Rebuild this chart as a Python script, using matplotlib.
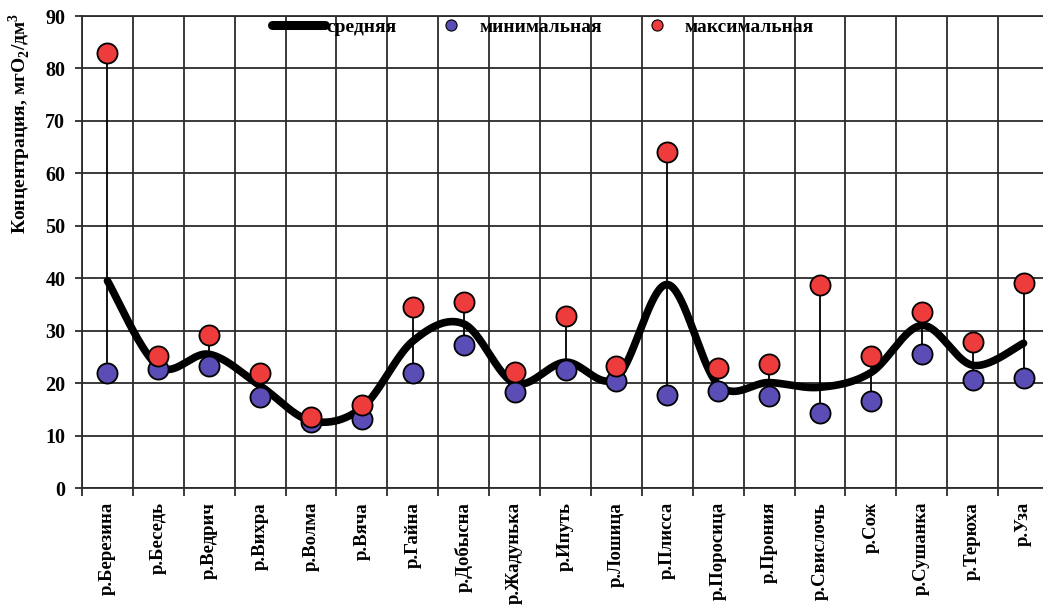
import numpy as np
import matplotlib.pyplot as plt
from matplotlib.lines import Line2D

plt.rcParams['font.family'] = ['Liberation Serif', 'DejaVu Serif']
plt.rcParams['font.weight'] = 'bold'
plt.rcParams['mathtext.fontset'] = 'custom'
plt.rcParams['mathtext.rm'] = 'Liberation Serif:bold'
plt.rcParams['mathtext.bf'] = 'Liberation Serif:bold'

rivers = ['р.Березина', 'р.Беседь', 'р.Ведрич', 'р.Вихра', 'р.Волма', 'р.Вяча',
          'р.Гайна', 'р.Добысна', 'р.Жадунька', 'р.Ипуть', 'р.Лошица', 'р.Плисса',
          'р.Поросица', 'р.Прония', 'р.Свислочь', 'р.Сож', 'р.Сушанка',
          'р.Терюха', 'р.Уза']
mean_vals = [39.5, 23.2, 25.5, 19.5, 12.8, 15.3, 28.0, 31.3, 20.0, 24.0, 21.0,
             38.8, 19.7, 20.1, 19.2, 22.0, 31.0, 23.4, 27.6]
min_vals = [22.0, 22.7, 23.2, 17.3, 12.5, 13.1, 21.9, 27.3, 18.3, 22.5, 20.4,
            17.8, 18.5, 17.6, 14.3, 16.6, 25.6, 20.6, 20.9]
max_vals = [83.0, 25.1, 29.1, 21.9, 13.6, 15.8, 34.5, 35.5, 22.1, 32.8, 23.2,
            64.0, 22.9, 23.6, 38.8, 25.2, 33.5, 27.8, 39.1]

RED = '#ee3b3b'
BLUE = '#5a4db5'
GRID = '#2b2b2b'


def smooth(xs, ys, steps=40):
    # cardinal (Catmull-Rom) bezier through every point, like a spreadsheet "smoothed line"
    xs = np.asarray(xs, float)
    ys = np.asarray(ys, float)
    n = len(xs)
    px, py = [], []
    for i in range(n - 1):
        i0, i2, i3 = max(i - 1, 0), i + 1, min(i + 2, n - 1)
        c1x = xs[i] + (xs[i2] - xs[i0]) / 6
        c1y = ys[i] + (ys[i2] - ys[i0]) / 6
        c2x = xs[i2] - (xs[i3] - xs[i]) / 6
        c2y = ys[i2] - (ys[i3] - ys[i]) / 6
        t = np.linspace(0, 1, steps)
        a, b, c, d = (1 - t) ** 3, 3 * t * (1 - t) ** 2, 3 * t ** 2 * (1 - t), t ** 3
        px.extend(a * xs[i] + b * c1x + c * c2x + d * xs[i2])
        py.extend(a * ys[i] + b * c1y + c * c2y + d * ys[i2])
    return px, py


fig = plt.figure(figsize=(10.43, 6.06), dpi=100)
ax = fig.add_axes([82 / 1043, 118 / 606, 967 / 1043, 472 / 606])

x = np.arange(len(rivers))
ax.set_xlim(-0.5, len(rivers) - 0.5)
ax.set_ylim(0, 90)

# grid: horizontal every 10, vertical between categories
ax.set_yticks(range(0, 91, 10))
ax.set_xticks(x)
ax.set_xticks(np.arange(-0.5, len(rivers), 1), minor=True)
ax.set_xticklabels(rivers, rotation=90, va='top', ha='center', fontsize=13.5)
ax.grid(True, which='minor', axis='x', color=GRID, lw=1.3)
ax.grid(True, which='major', axis='y', color=GRID, lw=1.3)
ax.set_axisbelow(True)
ax.tick_params(axis='x', which='major', length=0, pad=10)
ax.tick_params(axis='x', which='minor', length=6, width=1.3, color=GRID, direction='out')
ax.tick_params(axis='y', length=5, width=1.3, color=GRID, pad=7, labelsize=14.5)
for s in ax.spines.values():
    s.set_color(GRID)
    s.set_linewidth(1.3)

# min-max stems
ax.vlines(x, min_vals, max_vals, color='black', lw=1.3, zorder=2)

sx, sy = smooth(x, mean_vals)
ax.plot(sx, sy, color='black', lw=5.5, solid_capstyle='round', zorder=3)

ax.scatter(x, min_vals, s=210, color=BLUE, edgecolor='black', lw=1.3, zorder=4)
ax.scatter(x, max_vals, s=210, color=RED, edgecolor='black', lw=1.3, zorder=5)

handles = [
    Line2D([], [], color='black', lw=6.5, solid_capstyle='round'),
    Line2D([], [], ls='', marker='o', ms=8, mfc=BLUE, mec='black', mew=0.8),
    Line2D([], [], ls='', marker='o', ms=8, mfc=RED, mec='black', mew=0.8),
]
ax.legend(handles, ['средняя', 'минимальная', 'максимальная'], ncol=3,
          loc='center', bbox_to_anchor=(0.477, 0.977), frameon=False,
          handlelength=2.7, handletextpad=0.1, columnspacing=1.45,
          prop={'size': 14, 'weight': 'bold'})

fig.text(20 / 1043, 1 - 123 / 606, 'Концентрация, мгО$_2$/дм$^3$', rotation=90,
         ha='center', va='center', fontsize=14)

fig.savefig('out.png', dpi=100)
